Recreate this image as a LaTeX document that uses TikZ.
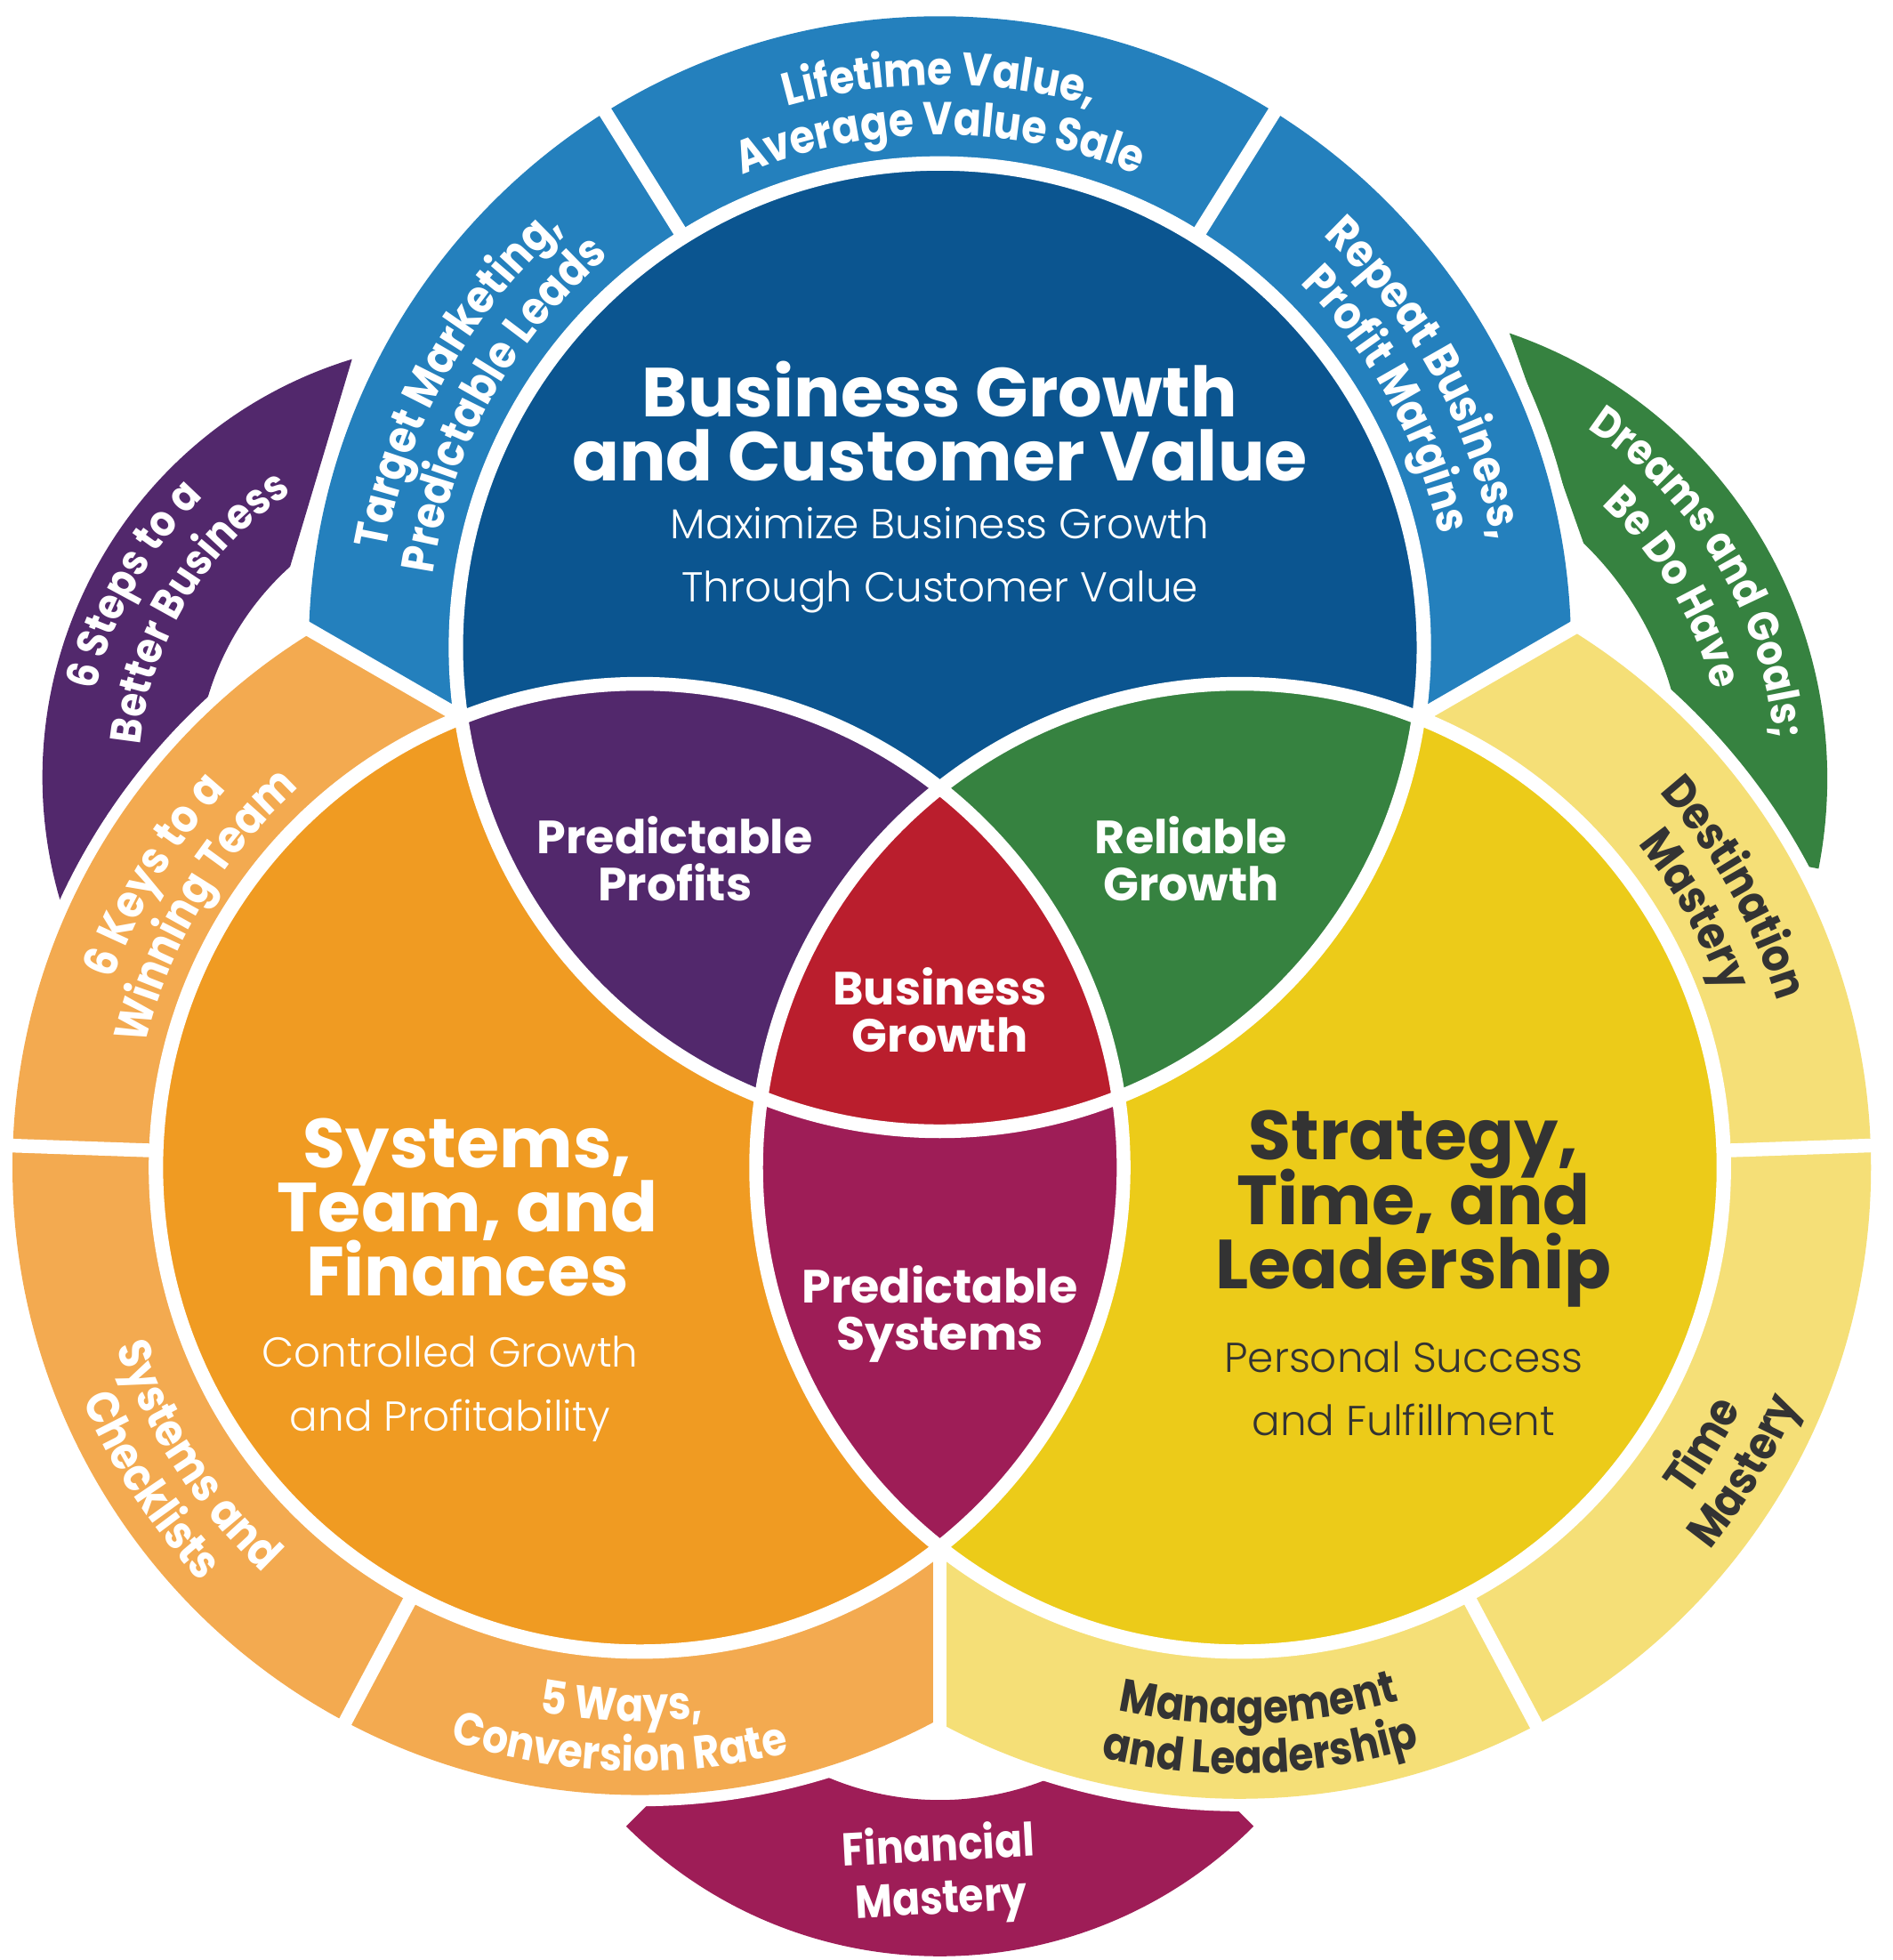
\documentclass[tikz,border=0pt]{standalone}
\usepackage{fontspec}
\setmainfont{Poppins}
\newfontfamily\lightfont{Poppins Light}
\newfontfamily\bandfont{Poppins Bold}[FakeStretch=0.88]
\usetikzlibrary{calc,decorations.text}
\lineskiplimit=-50pt
\definecolor{bizblue}{HTML}{0B5590}
\definecolor{ringblue}{HTML}{2480BD}
\definecolor{sysorange}{HTML}{F09B22}
\definecolor{ringorange}{HTML}{F3AA50}
\definecolor{stratyellow}{HTML}{ECCB19}
\definecolor{ringyellow}{HTML}{F5DF77}
\definecolor{profitpurple}{HTML}{52286C}
\definecolor{growthgreen}{HTML}{368240}
\definecolor{corered}{HTML}{BA1E2D}
\definecolor{sysmagenta}{HTML}{9E1D57}
\definecolor{darktxt}{HTML}{333333}
\newcommand{\bandsize}{\bandfont\fontsize{10.5}{12}\selectfont}
\newcommand{\backsize}{\bandfont\fontsize{9.9}{11}\selectfont}
% annular sector: center, start, end, inner r, outer r
\newcommand{\sectorpath}[5]{($(#1)+(#2:#5)$) arc[start angle=#2, end angle=#3, radius=#5]
  -- ($(#1)+(#3:#4)$) arc[start angle=#3, end angle=#2, radius=#4] -- cycle}
% curved label: center, radius, from, to, colour, text
\newcommand{\bandtext}[6]{\path[decorate, decoration={text along path, text align=center,
  text color=#5, text={|\bandsize|#6}}] ($(#1)+(#3:#2)$) arc[start angle=#3, end angle=#4, radius=#2];}
\newcommand{\backtext}[5]{\path[decorate, decoration={text along path, text align=center,
  text color=white, text={|\backsize|#5}}] ($(#1)+(#3:#2)$) arc[start angle=#3, end angle=#4, radius=#2];}
\tikzset{
  gap/.style={white, line width=1.1mm},
  bigtitle/.style={font=\bfseries\fontsize{15.8}{14.6}\selectfont, align=center, inner sep=0pt},
  subtitle/.style={font=\lightfont\fontsize{9.5}{14.5}\selectfont, align=center, inner sep=0pt},
  lenslbl/.style={font=\bfseries\fontsize{10.6}{10.8}\selectfont, align=center, text=white, inner sep=0pt},
  bandlbl/.style={font=\bandsize, align=center, text=white, inner sep=0pt}
}

\begin{document}
\begin{tikzpicture}[x=0.1mm, y=0.1mm]
  \useasboundingbox (0,0) rectangle (1514,-1568);
  \coordinate (T) at (752,-518);
  \coordinate (O) at (512,-934);
  \coordinate (Y) at (992,-934);
  \coordinate (C) at (752,-795);
  \coordinate (P) at (384,-622);
  \coordinate (G) at (1085,-623);
  \coordinate (M) at (752,-1210);

  % back pieces
  \fill[profitpurple] ($(P)+(107:350)$) arc[start angle=107, end angle=196.5, radius=350]
    -- ($(P)+(196.5:227)$) arc[start angle=196.5, end angle=132, radius=227] -- cycle;
  \fill[growthgreen] ($(G)+(71:377)$) arc[start angle=71, end angle=-11, radius=377]
    -- ($(G)+(-11:262)$) arc[start angle=-11, end angle=46, radius=262] -- cycle;
  \fill[sysmagenta] \sectorpath{M}{225}{315}{230}{355};

  % outer rings
  \begin{scope}
    \clip (C) -- (-287,-195) -- (-287,500) -- (1791,500) -- (1791,-195) -- cycle;
    \fill[white] (T) circle (515);
    \fill[ringblue] (T) circle (505);
  \end{scope}
  \begin{scope}
    \clip (C) -- (-287,-195) -- (-287,-2000) -- (752,-2000) -- cycle;
    \fill[white] (O) circle (511);
    \fill[ringorange] (O) circle (502);
  \end{scope}
  \begin{scope}
    \clip (C) -- (1791,-195) -- (1791,-2000) -- (752,-2000) -- cycle;
    \fill[white] (Y) circle (515);
    \fill[ringyellow] (Y) circle (505);
  \end{scope}
  \foreach \a in {150,30,270}
    \draw[gap] (C) -- ++(\a:590);
  \foreach \a in {58,122}
    \draw[gap] (T) ++(\a:370) -- ++(\a:150);
  \foreach \a in {178,242}
    \draw[gap] (O) ++(\a:370) -- ++(\a:150);
  \foreach \a in {2,298}
    \draw[gap] (Y) ++(\a:370) -- ++(\a:150);

  % main circles and overlaps
  \foreach \c in {T,O,Y}
    \fill[white] (\c) circle (393);
  \fill[bizblue] (T) circle (387);
  \fill[sysorange] (O) circle (387);
  \fill[stratyellow] (Y) circle (387);
  \begin{scope}
    \clip (O) circle (387);
    \fill[sysmagenta] (Y) circle (387);
  \end{scope}
  \begin{scope}
    \clip (T) circle (387);
    \fill[profitpurple] (O) circle (387);
    \fill[growthgreen] (Y) circle (387);
    \clip (O) circle (387);
    \fill[corered] (Y) circle (387);
  \end{scope}
  \foreach \c in {T,O,Y}
    \draw[gap] (\c) circle (387);

  % circle texts
  \node[bigtitle, text=white] (bgtitle) at (752,-337) {Business Growth\\and Customer Value};
  \node[subtitle, text=white] (bgsub) at (752,-448) {Maximize Business Growth\\Through Customer Value};
  \node[bigtitle, text=white] (systitle) at (374,-966) {Systems,\\Team, and\\Finances};
  \node[subtitle, text=white] (syssub) at (360,-1111) {Controlled Growth\\and Profitability};
  \node[bigtitle, text=darktxt] (strtitle) at (1131,-967) {Strategy,\\Time, and\\Leadership};
  \node[subtitle, text=darktxt] (strsub) at (1123,-1111) {Personal Success\\and Fulfillment};
  \node[lenslbl] (profits) at (540,-687) {Predictable\\Profits};
  \node[lenslbl] (reliable) at (953,-687) {Reliable\\Growth};
  \node[lenslbl] (core) at (752,-808) {Business\\Growth};
  \node[lenslbl] (psystems) at (752,-1051) {Predictable\\Systems};

  % ring texts
  \bandtext{T}{450}{135}{45}{white}{Lifetime Value,}
  \bandtext{T}{410}{140}{40}{white}{Average Value Sale}
  \bandtext{T}{450}{196}{106}{white}{Target Marketing,}
  \bandtext{T}{410}{196}{106}{white}{Predictable Leads}
  \bandtext{T}{450}{74}{-16}{white}{Repeat Business,}
  \bandtext{T}{410}{74}{-16}{white}{Profit Margins}
  \bandtext{O}{448}{194}{104}{white}{6 Keys to a}
  \bandtext{O}{408}{194}{104}{white}{Winning Team}
  \bandtext{O}{443}{168}{258}{white}{Systems and}
  \bandtext{O}{483}{168}{258}{white}{Checklists}
  \bandtext{O}{443}{223}{313}{white}{5 Ways,}
  \bandtext{O}{483}{223}{313}{white}{Conversion Rate}
  \bandtext{Y}{450}{74.5}{-15.5}{darktxt}{Destination}
  \bandtext{Y}{410}{74.5}{-15.5}{darktxt}{Mastery}
  \bandtext{Y}{445}{284}{374}{darktxt}{Time}
  \bandtext{Y}{485}{284}{374}{darktxt}{Mastery}
  \bandtext{Y}{445}{227}{317}{darktxt}{Management}
  \bandtext{Y}{485}{227}{317}{darktxt}{and Leadership}
  \backtext{P}{315}{211}{91}{6 Steps to a}
  \backtext{P}{273}{209}{89}{Better Business}
  \backtext{G}{336}{91}{-29}{Dreams and Goals;}
  \backtext{G}{294}{91}{-29}{Be Do Have}
  \node[bandlbl, rotate=3] (financial) at (752,-1500) {Financial\\Mastery};
\end{tikzpicture}
\end{document}
